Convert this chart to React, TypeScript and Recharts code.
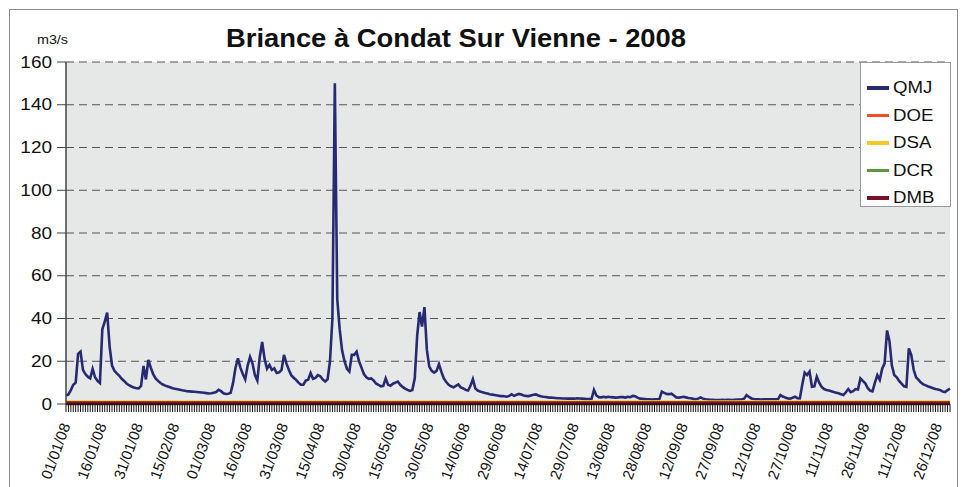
import React from 'react';
import { LineChart, Line, XAxis, YAxis, CartesianGrid, Legend } from 'recharts';

// Daily mean flow (QMJ, m3/s) for 2008, from 01/01/08 to 31/12/08
const qmj = [
  4, 4.5, 6.5, 9, 10, 23.5, 24.5, 16, 14, 12.8,
  12, 16.4, 12.5, 10.8, 9.8, 35, 38.5, 42.8, 27, 18,
  15.5, 14.3, 13.2, 11.8, 10.8, 9.6, 8.8, 8.2, 7.7, 7.4,
  7.3, 8.5, 17.8, 11.5, 20.6, 17, 14, 12, 10.8, 9.8,
  9.1, 8.6, 8.2, 7.8, 7.4, 7.1, 6.9, 6.7, 6.4, 6.2,
  6.0, 5.9, 5.8, 5.7, 5.6, 5.5, 5.4, 5.3, 5.1, 4.9,
  5.0, 5.3, 5.6, 6.6, 6.0, 5.0, 4.7, 4.8, 5.2, 10,
  17, 21.4, 17, 14, 11.5, 18, 22, 19, 13.5, 11,
  22, 29, 21, 16.5, 18.3, 16, 16.7, 14.5, 14.8, 16,
  23, 19, 16, 13.5, 12.3, 11.3, 10, 9, 9, 11,
  11.4, 14.5, 11.8, 12.2, 13.5, 13, 11.5, 10.5, 11.5, 20,
  40, 150, 49, 35, 25, 20, 16.5, 15.2, 23, 23,
  24.5, 20, 17, 14, 12.5, 11.8, 12, 11, 9.6, 9,
  8.3, 8.5, 12, 9, 8.5, 9.5, 10, 10.5, 9, 8,
  7.2, 6.6, 6.1, 6.5, 12, 32, 43, 36.2, 45.3, 25.3,
  17.5, 15.5, 14.7, 15.5, 18.7, 15, 12, 10.3, 9, 8.3,
  7.8, 8.5, 9.2, 7.8, 7.3, 6.6, 6.3, 8.5, 11.6, 7.3,
  6.3, 5.8, 5.5, 5.2, 4.9, 4.6, 4.4, 4.2, 4.0, 3.8,
  3.7, 3.6, 3.4, 3.8, 4.5, 3.8, 4.3, 4.7, 4.4, 4.0,
  3.8, 3.7, 4.0, 4.3, 4.5, 4.0, 3.6, 3.4, 3.3, 3.1,
  3.0, 2.9, 2.8, 2.7, 2.7, 2.6, 2.6, 2.5, 2.5, 2.6,
  2.5, 2.7, 2.6, 2.5, 2.4, 2.3, 2.3, 2.4, 6.6, 4.0,
  3.2, 3.1, 3.4, 3.1, 3.4, 3.2, 3.1, 3.0, 3.1, 3.3,
  3.2, 3.0, 3.4, 3.2, 3.8, 3.6, 3.0, 2.5, 2.4, 2.3,
  2.2, 2.2, 2.1, 2.2, 2.2, 2.3, 5.8, 5.2, 4.7, 4.6,
  4.8, 4.0, 3.1, 3.0, 3.2, 3.4, 3.1, 2.8, 2.7, 2.4,
  2.2, 2.5, 3.1, 2.5, 2.2, 2.1, 2.0, 2.0, 1.9, 1.9,
  1.9, 2.0, 1.9, 2.0, 2.0, 1.9, 2.0, 2.1, 2.1, 2.2,
  2.5, 4.2, 3.3, 2.6, 2.3, 2.2, 2.2, 2.1, 2.2, 2.2,
  2.2, 2.2, 2.2, 2.2, 2.3, 4.2, 3.5, 3.0, 2.6, 2.5,
  2.9, 3.4, 2.7, 2.6, 9, 14.7, 13.6, 15.2, 8.1, 8.3,
  12.8, 10, 8, 7, 6.6, 6.3, 6, 5.6, 5.3, 5,
  4.6, 4.2, 5.5, 7, 5.5, 6, 7, 6.8, 12, 10.8,
  9.7, 7.5, 6.3, 5.9, 10, 13.5, 11.3, 16.5, 19, 34.4,
  29.5, 18, 13.5, 12.5, 10.8, 9.5, 8.3, 8, 26, 23,
  16, 12.5, 11.3, 10, 9.2, 8.7, 8.2, 7.8, 7.4, 7,
  6.8, 6.5, 5.8, 5.6, 6.5, 7.2,
];

// Threshold flows (m3/s)
const seriesNames = ['QMJ', 'DOE', 'DSA', 'DCR', 'DMB'];
const doeValue = 0.3;
const dsaValue = 1.3;
const dcrValue = 0.3;
const dmbValue = 0.3;

const yTicks = [0, 20, 40, 60, 80, 100, 120, 140, 160];
const labelEvery = 15;
const startYear = 2008;
const title = 'Briance à Condat Sur Vienne - 2008';
const unitLabel = 'm3/s';

const colors: Record<string, string> = {
  QMJ: '#262a72',
  DOE: '#f04e23',
  DSA: '#f6c82a',
  DCR: '#5a9a3c',
  DMB: '#7a1126',
};

const pad = (n: number) => String(n).padStart(2, '0');
const dates: string[] = qmj.map((_, i) => {
  const d = new Date(Date.UTC(startYear, 0, 1) + i * 86400000);
  return `${pad(d.getUTCDate())}/${pad(d.getUTCMonth() + 1)}/${pad(d.getUTCFullYear() % 100)}`;
});

const data = dates.map((date, i) => ({
  date,
  QMJ: qmj[i],
  DOE: doeValue,
  DSA: dsaValue,
  DCR: dcrValue,
  DMB: dmbValue,
}));

const FONT = '"Liberation Sans", Arial, sans-serif';

const DateTick = (props: any) => {
  const { x, y, payload } = props;
  const idx = props.index ?? payload?.index ?? 0;
  if (idx % labelEvery !== 0) return null;
  const tx = x + 4.5;
  const ty = y + 13.5;
  return (
    <text
      x={tx}
      y={ty}
      transform={`rotate(-70 ${tx} ${ty})`}
      textAnchor="end"
      fontSize={15}
      fill="#111"
      fontFamily={FONT}
    >
      {payload.value}
    </text>
  );
};

const ValueTick = (props: any) => {
  const { x, y, payload } = props;
  return (
    <text
      x={x}
      y={y}
      textAnchor="end"
      dominantBaseline="central"
      fontSize={16.5}
      fill="#111"
      fontFamily={FONT}
      transform={`translate(${x} 0) scale(1.15 1) translate(${-x} 0)`}
    >
      {payload.value}
    </text>
  );
};

const LegendBox = () => (
  <div
    style={{
      width: 91,
      height: 145,
      background: '#fff',
      border: '1px solid #9a9a9a',
      boxSizing: 'border-box',
      paddingTop: 11,
      fontFamily: FONT,
    }}
  >
    {seriesNames.map((n) => (
      <div key={n} style={{ display: 'flex', alignItems: 'center', height: 27.5 }}>
        <span
          style={{
            display: 'inline-block',
            marginLeft: 6,
            width: 22,
            height: 3.5,
            background: colors[n],
          }}
        />
        <span
          style={{
            marginLeft: 4,
            fontSize: 16.5,
            color: '#111',
            transform: 'scaleX(1.13)',
            transformOrigin: 'left center',
            display: 'inline-block',
          }}
        >
          {n}
        </span>
      </div>
    ))}
  </div>
);

export default function App() {
  return (
    <div style={{ position: 'absolute', left: 0, top: 0, width: 962, height: 487, background: '#fff', overflow: 'hidden' }}>
      <div
        style={{
          position: 'absolute',
          left: 9,
          top: 9,
          width: 949,
          height: 490,
          border: '1px solid #8c8c8c',
          boxSizing: 'border-box',
        }}
      />
      <svg width={962} height={60} style={{ position: 'absolute', left: 0, top: 0 }}>
        <text
          x={456}
          y={47}
          textAnchor="middle"
          fontSize={25.5}
          fontWeight="bold"
          fill="#111"
          fontFamily={FONT}
          textLength={460}
          lengthAdjust="spacingAndGlyphs"
        >
          {title}
        </text>
        <text x={37} y={44} fontSize={13} fill="#111" fontFamily={FONT} textLength={31} lengthAdjust="spacingAndGlyphs">
          {unitLabel}
        </text>
      </svg>
      <div style={{ position: 'absolute', left: 0, top: 0 }}>
        <LineChart width={962} height={487} data={data} margin={{ top: 62, right: 12, bottom: 0, left: 0 }}>
          <CartesianGrid
            vertical={false}
            fill="#e6e7e7"
            stroke="#555"
            strokeDasharray="8 5"
            strokeWidth={1.2}
          />
          <XAxis
            dataKey="date"
            interval={0}
            tick={<DateTick />}
            tickSize={8}
            tickMargin={0}
            height={83}
            stroke="#111"
            tickLine={{ stroke: '#111' }}
          />
          <YAxis
            domain={[0, 160]}
            ticks={yTicks}
            width={66}
            tickSize={9}
            tickMargin={5}
            tick={<ValueTick />}
            stroke="#444"
            axisLine={{ stroke: '#444', strokeWidth: 1.5 }}
            tickLine={{ stroke: '#444' }}
            interval={0}
          />
          <YAxis
            yAxisId="r"
            orientation="right"
            domain={[0, 160]}
            width={0}
            tick={false}
            tickLine={false}
            axisLine={{ stroke: '#9a9a9a', strokeWidth: 1.5 }}
          />
          <Legend
            layout="vertical"
            align="center"
            verticalAlign="middle"
            content={<LegendBox />}
            wrapperStyle={{ left: 860, top: 62, right: 'auto', bottom: 'auto', width: 91, height: 145 }}
          />
          <Line type="linear" dataKey="QMJ" stroke={colors.QMJ} strokeWidth={2.6} dot={false} isAnimationActive={false} />
          <Line type="linear" dataKey="DOE" stroke={colors.DOE} strokeWidth={1.5} dot={false} isAnimationActive={false} />
          <Line type="linear" dataKey="DSA" stroke={colors.DSA} strokeWidth={2} dot={false} isAnimationActive={false} />
          <Line type="linear" dataKey="DCR" stroke={colors.DCR} strokeWidth={1.5} dot={false} isAnimationActive={false} />
          <Line type="linear" dataKey="DMB" stroke={colors.DMB} strokeWidth={4} dot={false} isAnimationActive={false} />
        </LineChart>
      </div>
    </div>
  );
}
